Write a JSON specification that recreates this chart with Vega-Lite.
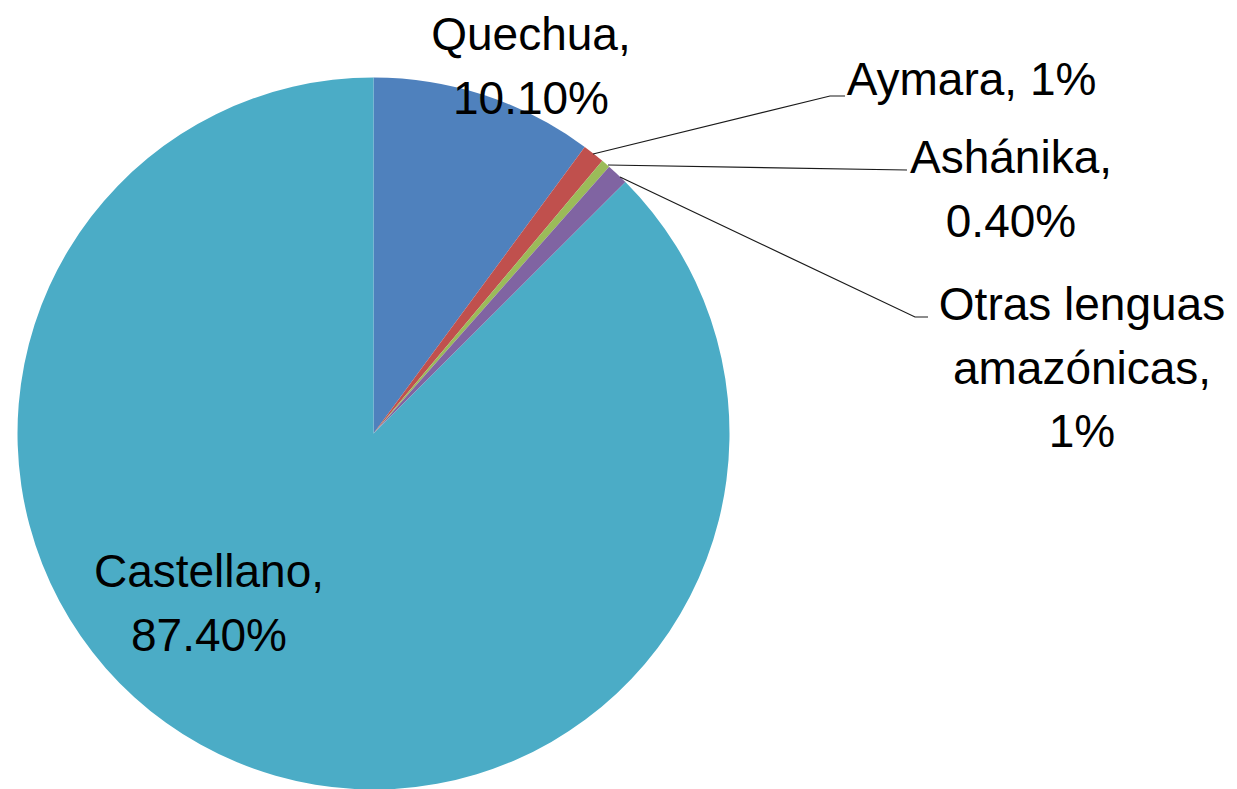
{
  "$schema": "https://vega.github.io/schema/vega-lite/v6.json",
  "width": 1237,
  "height": 789,
  "autosize": "none",
  "padding": 0,
  "background": "white",
  "config": {"view": {"stroke": null}},
  "datasets": {
    "langs": [
      {"lengua": "Quechua", "porcentaje": 10.1, "orden": 1},
      {"lengua": "Aymara", "porcentaje": 1.0, "orden": 2},
      {"lengua": "Ashánika", "porcentaje": 0.4, "orden": 3},
      {"lengua": "Otras lenguas amazónicas", "porcentaje": 1.0, "orden": 4},
      {"lengua": "Castellano", "porcentaje": 87.4, "orden": 5}
    ],
    "labels": [
      {"lengua": "Quechua", "etiqueta": "Quechua,\n10.10%", "lx": 0.4424, "ly": 1.0772},
      {"lengua": "Aymara", "etiqueta": "Aymara, 1%", "lx": 1.6798, "ly": 0.9508},
      {"lengua": "Ashánika", "etiqueta": "Ashánika,\n0.40%", "lx": 1.7907, "ly": 0.7317},
      {"lengua": "Otras lenguas amazónicas", "etiqueta": "Otras lenguas\namazónicas,\n1%", "lx": 1.9902, "ly": 0.3188},
      {"lengua": "Castellano", "etiqueta": "Castellano,\n87.40%", "lx": -0.4621, "ly": -0.4312}
    ],
    "leaders": [
      {"lengua": "Aymara", "punto": 1, "lx": 0.6166, "ly": 0.7851},
      {"lengua": "Aymara", "punto": 2, "lx": 1.2823, "ly": 0.948},
      {"lengua": "Aymara", "punto": 3, "lx": 1.3244, "ly": 0.948},
      {"lengua": "Ashánika", "punto": 1, "lx": 0.6587, "ly": 0.7542},
      {"lengua": "Ashánika", "punto": 2, "lx": 1.4986, "ly": 0.7402},
      {"lengua": "Otras lenguas amazónicas", "punto": 1, "lx": 0.6924, "ly": 0.7205},
      {"lengua": "Otras lenguas amazónicas", "punto": 2, "lx": 1.5211, "ly": 0.3272},
      {"lengua": "Otras lenguas amazónicas", "punto": 3, "lx": 1.5576, "ly": 0.3272}
    ]
  },
  "layer": [
    {
      "data": {"name": "langs"},
      "mark": {"type": "arc", "outerRadius": 356, "stroke": null},
      "encoding": {
        "theta": {"field": "porcentaje", "type": "quantitative", "stack": true},
        "order": {"field": "orden", "type": "quantitative"},
        "color": {
          "field": "lengua",
          "type": "nominal",
          "scale": {
            "domain": ["Quechua", "Aymara", "Ashánika", "Otras lenguas amazónicas", "Castellano"],
            "range": ["#4F81BD", "#C0504D", "#9BBB59", "#8064A2", "#4BACC6"]
          },
          "legend": null
        },
        "x": {"datum": 0, "type": "quantitative", "scale": {"domain": [-1.04916, 2.42556], "nice": false, "zero": false}, "axis": null},
        "y": {"datum": 0, "type": "quantitative", "scale": {"domain": [-0.9986, 1.2177], "nice": false, "zero": false}, "axis": null}
      }
    },
    {
      "data": {"name": "leaders"},
      "mark": {"type": "line", "color": "#1a1a1a", "strokeWidth": 1.2},
      "encoding": {
        "x": {"field": "lx", "type": "quantitative", "axis": null},
        "y": {"field": "ly", "type": "quantitative", "axis": null},
        "detail": {"field": "lengua", "type": "nominal"},
        "order": {"field": "punto", "type": "quantitative"}
      }
    },
    {
      "data": {"name": "labels"},
      "mark": {"type": "text", "font": "Liberation Sans", "fontSize": 46, "lineBreak": "\n", "lineHeight": 63.5, "align": "center", "baseline": "alphabetic", "color": "#000000"},
      "encoding": {
        "x": {"field": "lx", "type": "quantitative", "axis": null},
        "y": {"field": "ly", "type": "quantitative", "axis": null},
        "text": {"field": "etiqueta", "type": "nominal"}
      }
    }
  ]
}
